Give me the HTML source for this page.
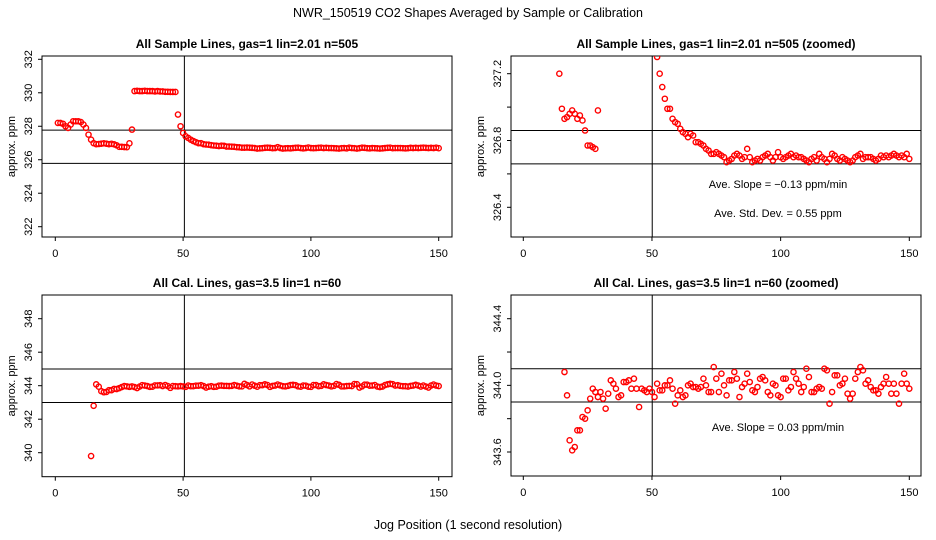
<!DOCTYPE html>
<html><head><meta charset="utf-8"><style>
html,body{margin:0;padding:0;background:#fff;width:936px;height:540px;overflow:hidden}
svg{display:block;font-family:"Liberation Sans",sans-serif}
</style></head><body>
<svg id="c" width="936" height="540" viewBox="0 0 936 540">
<text x="468" y="17" text-anchor="middle" font-size="12.5">NWR_150519  CO2 Shapes Averaged by Sample or Calibration</text>
<text x="468" y="529" text-anchor="middle" font-size="12.5">Jog Position (1 second resolution)</text>
</svg>
<script>
const sampleX = [];
for (let i = 1; i <= 150; i++) sampleX.push(i);
const sampleY = [328.2,328.2,328.15,328.0,327.9,328.1,328.3,328.3,328.3,328.25,328.1,327.9,327.5,327.2,326.99,326.93,326.94,326.96,326.98,326.96,326.93,326.95,326.92,326.86,326.77,326.77,326.76,326.75,326.98,327.8,
330.1,330.12,330.1,330.1,330.12,330.1,330.1,330.1,330.08,330.1,330.08,330.08,330.06,330.06,330.05,330.05,330.05,328.7,328.0,327.6,
327.4,327.3,327.2,327.12,327.05,326.99,326.99,326.93,326.91,326.9,326.87,326.85,326.84,326.82,326.84,326.83,326.79,326.79,326.78,326.77,
326.75,326.74,326.72,326.72,326.73,326.72,326.71,326.70,326.67,326.68,326.69,326.71,326.72,326.71,326.69,326.70,326.75,326.70,326.67,326.68,
326.69,326.68,326.70,326.71,326.72,326.70,326.68,326.70,326.73,326.70,326.69,326.70,326.71,326.72,326.70,326.71,326.70,326.70,326.69,326.68,
326.67,326.69,326.70,326.68,326.72,326.70,326.69,326.67,326.69,326.72,326.71,326.69,326.68,326.70,326.69,326.68,326.67,326.68,326.70,326.71,
326.72,326.69,326.70,326.70,326.70,326.69,326.68,326.69,326.71,326.70,326.71,326.70,326.71,326.72,326.71,326.70,326.71,326.70,326.72,326.69];
const calX = [];
for (let i = 14; i <= 150; i++) calX.push(i);
const calY = [339.8,342.8,344.08,343.94,343.67,343.61,343.63,343.73,343.73,343.81,343.80,343.85,343.92,343.98,343.96,343.93,343.96,343.92,343.86,343.95,
344.03,344.01,343.98,343.93,343.94,344.02,344.02,344.03,343.98,344.04,343.98,343.87,343.98,343.97,343.96,343.98,343.96,343.93,344.01,343.97,
343.97,344.0,344.0,344.03,343.98,343.89,343.94,343.97,343.93,343.94,344.0,344.01,343.99,343.99,343.98,343.99,344.04,344.0,343.96,343.96,
344.11,344.04,343.96,344.07,344.0,343.94,344.03,344.03,344.08,344.04,343.93,343.99,344.01,344.07,344.02,343.97,343.96,343.99,344.04,344.05,
344.03,343.96,343.94,344.01,344.0,343.94,343.93,344.04,344.04,343.97,343.99,344.08,344.04,344.01,343.96,343.99,344.1,344.05,343.96,343.96,
343.98,343.99,343.98,344.1,344.09,343.89,343.96,344.06,344.06,344.0,344.01,344.04,343.95,343.92,343.95,344.04,344.08,344.11,344.09,344.01,
344.03,343.99,343.97,343.97,343.95,343.99,344.01,344.05,344.01,343.95,344.01,343.95,343.89,344.01,344.07,344.01,343.98];
const xTicks = [0,50,100,150];
const NS = "http://www.w3.org/2000/svg";
const svg = document.getElementById('c');
function mk(tag, attrs, parent){const e=document.createElementNS(NS,tag);for(const k in attrs)e.setAttribute(k,attrs[k]);(parent||svg).appendChild(e);return e;}

const panels = [
 {name:'sample-full', title:'All Sample Lines, gas=1 lin=2.01 n=505', L:42,R:452,T:56,B:237, x0:55.3,x1:438.7, yv0:332,yp0:59.3,yv1:322,yp1:226.7,
  ticks:[322,324,326,328,330,332], labels:[322,324,326,328,330,332], hl:[327.77,325.78], vl:50.5, xs:sampleX, ys:sampleY, notes:[]},
 {name:'sample-zoomed', title:'All Sample Lines, gas=1 lin=2.01 n=505 (zoomed)', L:511,R:921,T:56,B:237, x0:523.3,x1:909.3, yv0:327.2,yp0:73.7,yv1:326.4,yp1:207.3,
  ticks:[326.4,326.6,326.8,327.0,327.2], labels:[326.4,326.8,327.2], hl:[326.86,326.66], vl:50.1, xs:sampleX, ys:sampleY,
  notes:[['Ave. Slope =  \u22120.13  ppm/min',188],['Ave. Std. Dev. =  0.55  ppm',217]]},
 {name:'cal-full', title:'All Cal. Lines, gas=3.5 lin=1 n=60', L:42,R:452,T:295,B:476.7, x0:55.3,x1:438.7, yv0:348,yp0:318.7,yv1:340,yp1:452.7,
  ticks:[340,342,344,346,348], labels:[340,342,344,346,348], hl:[345.0,343.0], vl:50.5, xs:calX, ys:calY, notes:[]},
 {name:'cal-zoomed', title:'All Cal. Lines, gas=3.5 lin=1 n=60 (zoomed)', L:511,R:921,T:295,B:476, x0:523.3,x1:909.3, yv0:344.4,yp0:318.7,yv1:343.6,yp1:452,
  ticks:[343.6,343.8,344.0,344.2,344.4], labels:[343.6,344.0,344.4], hl:[344.1,343.9], vl:50.1, xs:calX, ys:calY,
  notes:[['Ave. Slope =  0.03  ppm/min',431]]}
];

panels.forEach((p,pi)=>{
  const g = mk('g',{});
  
  
  const sx = v => p.x0 + (v/150)*(p.x1-p.x0);
  const sy = v => p.yp0 + (v-p.yv0)/(p.yv1-p.yv0)*(p.yp1-p.yp0);
  const cx = (p.L+p.R)/2;
  const t = mk('text',{x:cx,y:p.T-8,'text-anchor':'middle','font-size':12,'font-weight':'bold'},g);
  t.textContent = p.title;
  
  
  const box = mk('rect',{x:p.L,y:p.T,width:p.R-p.L,height:p.B-p.T,fill:'none',stroke:'#000','stroke-width':1},g);
  
  
  xTicks.forEach(v=>{
    const X=sx(v);
    mk('line',{x1:X,x2:X,y1:p.B,y2:p.B+4,stroke:'#000'},g);
    const tl=mk('text',{x:X,y:p.B+20,'text-anchor':'middle','font-size':11},g);
    tl.textContent=v;
    
    
  });
  p.ticks.forEach(v=>{
    const Y=sy(v);
    mk('line',{x1:p.L-4,x2:p.L,y1:Y,y2:Y,stroke:'#000'},g);
  });
  p.labels.forEach(v=>{
    const Y=sy(v);
    const s = (p.yv0-p.yv1) < 2 ? v.toFixed(1) : String(v);
    const tl=mk('text',{x:0,y:0,'text-anchor':'middle','font-size':11,transform:`translate(${p.L-10},${Y}) rotate(-90)`},g);
    tl.textContent=s;
    
    
  });
  const yl=mk('text',{x:0,y:0,'text-anchor':'middle','font-size':11,transform:`translate(${p.L-27},${(p.T+p.B)/2}) rotate(-90)`},g);
  yl.textContent='approx. ppm';
  
  
  const cp = mk('clipPath',{id:'cp'+pi},g);
  mk('rect',{x:p.L,y:p.T,width:p.R-p.L,height:p.B-p.T},cp);
  const inner = mk('g',{'clip-path':`url(#cp${pi})`},g);
  p.hl.forEach(v=>{
    const l=mk('line',{x1:p.L,x2:p.R,y1:sy(v),y2:sy(v),stroke:'#000'},inner);
    
    
  });
  const vl=mk('line',{x1:sx(p.vl),x2:sx(p.vl),y1:p.T,y2:p.B,stroke:'#000'},inner);
  
  
  p.xs.forEach((xv,i)=>{
    const c=mk('circle',{cx:sx(xv),cy:sy(p.ys[i]),r:2.6,fill:'none',stroke:'#ff0000','stroke-width':1.4},inner);
    
    
  });
  p.notes.forEach(n=>{
    const tn=mk('text',{x:778,y:n[1],'text-anchor':'middle','font-size':11},g);
    tn.textContent=n[0];
    
    
  });
});
</script>
</body></html>
